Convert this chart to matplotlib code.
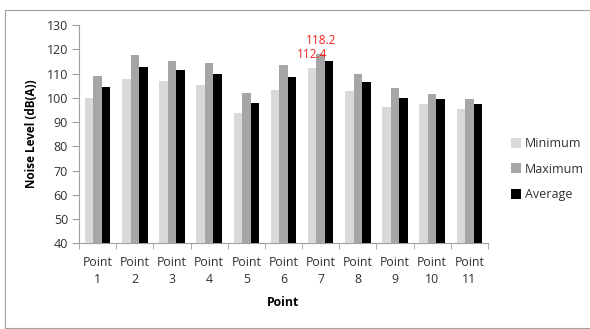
import numpy as np
import matplotlib
matplotlib.use('Agg')
import matplotlib.pyplot as plt
from matplotlib.lines import Line2D

# ---- Noise data per measuring point, dB(A) ----
points = ['Point\n1', 'Point\n2', 'Point\n3', 'Point\n4', 'Point\n5', 'Point\n6',
          'Point\n7', 'Point\n8', 'Point\n9', 'Point\n10', 'Point\n11']
minimum = [100.0, 107.8, 107.0, 105.4, 93.9, 103.3, 112.4, 102.9, 96.0, 97.4, 95.4]
maximum = [108.8, 117.7, 115.3, 114.3, 101.9, 113.7, 118.2, 109.8, 104.0, 101.4, 99.5]
average = [104.4, 112.8, 111.4, 109.9, 97.8, 108.4, 115.3, 106.3, 99.9, 99.5, 97.4]

plt.rcParams['font.family'] = ['Open Sans', 'DejaVu Sans']
txt = '#303030'

fig = plt.figure(figsize=(5.9, 3.29), dpi=100, facecolor='white')
ax = fig.add_axes([0.134, 0.2605, 0.693, 0.6635])

x = np.arange(len(points))
w = 0.23
ax.bar(x - w, minimum, w, color='#d9d9d9', label='Minimum', zorder=3)
ax.bar(x, maximum, w, color='#a6a6a6', label='Maximum', zorder=3)
ax.bar(x + w, average, w, color='black', label='Average', zorder=3)

# data labels on point 7
i7 = 6
ax.annotate(f'{maximum[i7]:.1f}', (x[i7], maximum[i7]), xytext=(0, 5),
            textcoords='offset points', ha='center', va='bottom',
            color='#ff2020', fontsize=8.5)
ax.annotate(f'{minimum[i7]:.1f}', (x[i7] - w, minimum[i7]), xytext=(0, 5),
            textcoords='offset points', ha='center', va='bottom',
            color='#ff2020', fontsize=8.5)

ax.set_ylim(40, 130)
ax.set_yticks(np.arange(40, 131, 10))
ax.set_xlim(-0.5, len(points) - 0.5)
ax.set_xticks(x)
ax.set_xticklabels(points, fontsize=8.8, linespacing=1.45, color=txt)
ax.set_xticks(np.arange(-0.5, len(points), 1), minor=True)
ax.tick_params(axis='x', which='major', length=0, pad=9)
ax.tick_params(axis='x', which='minor', length=4, color='#a0a0a0', direction='out')
ax.tick_params(axis='y', length=5, color='#a0a0a0', labelsize=9, pad=3,
               labelcolor=txt)

for side in ['top', 'right']:
    ax.spines[side].set_visible(False)
for side in ['left', 'bottom']:
    ax.spines[side].set_color('#a0a0a0')
    ax.spines[side].set_linewidth(0.8)

ax.set_ylabel('Noise Level (dB(A))', fontsize=8.5, fontweight='bold', labelpad=6)
ax.set_xlabel('Point', fontsize=8.8, fontweight='bold', labelpad=7)

ax.legend(loc='center left', bbox_to_anchor=(1.03, 0.34), frameon=False,
          fontsize=9, handlelength=0.8, handleheight=0.8, handletextpad=0.25,
          labelspacing=1.0, labelcolor=txt)

# chart area border
for xs, ys in [([0.009, 1.0], [0.97, 0.97]), ([0.009, 0.009], [0.003, 0.97]),
               ([0.009, 1.0], [0.003, 0.003])]:
    fig.add_artist(Line2D(xs, ys, transform=fig.transFigure, color='#a0a0a0', lw=0.8))

plt.savefig('out.png', dpi=100, facecolor='white')
